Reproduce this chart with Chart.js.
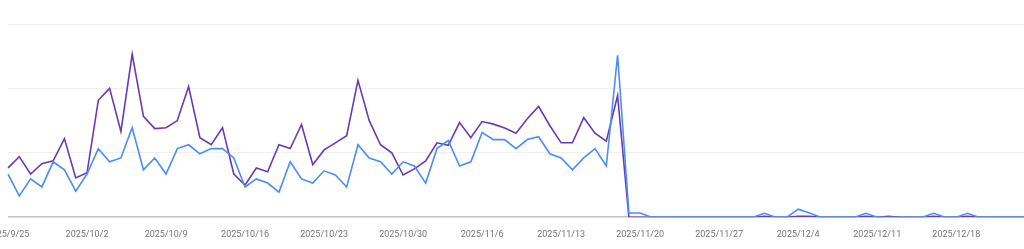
<!DOCTYPE html>
<html>
<head>
<meta charset="utf-8">
<script src="https://cdn.jsdelivr.net/npm/chart.js@4/dist/chart.umd.min.js"></script>
<style>
  html, body { margin: 0; padding: 0; background: #fff; overflow: hidden; }
  #wrap { position: absolute; left: -40px; top: 0; width: 1076px; height: 252px; }
</style>
</head>
<body>
<div id="wrap"><canvas id="chart"></canvas></div>
<script>
// one point per day, 2025/9/25 .. 2025/12/24
var startDay = new Date(2025, 8, 25);
var dayCount = 91;

var tickLabels = ["2025/9/25","2025/10/2","2025/10/9","2025/10/16","2025/10/23","2025/10/30",
  "2025/11/6","2025/11/13","2025/11/20","2025/11/27","2025/12/4","2025/12/11","2025/12/18"];

// blue line
var seriesBlue = [13.4,6.6,11.9,9.4,17.2,14.7,8.1,13.4,21.3,17.2,
  18.4,27.8,14.7,18.4,13.4,21.3,22.5,19.7,21.3,21.3,
  18.4,9.4,11.9,10.6,7.8,17.2,11.9,10.6,14.4,13.1,
  9.4,22.5,18.4,17.2,13.4,17.2,15.9,10.6,21.3,23.8,
  15.9,17.2,26.3,24.1,24.1,21.3,24.1,25.0,19.7,18.4,
  14.7,18.4,21.3,15.9,50.3,1.3,1.3,0,0,0,
  0,0,0,0,0,0,0,1.2,0,0,
  2.5,1.3,0,0,0,0,1.2,0,0,0,
  0,0,1.2,0,0,1.2,0,0,0,0,
  0];

// purple line
var seriesPurple = [15.3,18.8,13.4,16.6,17.5,24.4,12.2,13.8,36.3,40.0,
  26.6,50.6,31.3,27.5,27.8,30.0,40.6,24.7,22.5,27.8,
  13.4,10.0,15.3,14.1,22.5,21.3,28.8,16.3,20.9,23.1,
  25.3,42.5,30.0,22.5,20.0,13.1,15.0,17.5,23.1,22.3,
  29.4,24.7,29.7,28.9,27.7,26.1,30.6,34.4,28.4,23.1,
  23.1,30.9,26.1,23.6,37.8,0,0,0,0,0,
  0,0,0,0,0,0,0,0.3,0,0,
  0.3,0.3,0,0,0,0,0.3,0,0.3,0,
  0,0,0.3,0,0,0.3,0,0,0,0,
  0];

var yMax = 60;
var yStep = 20;

var labels = [];
for (var i = 0; i < dayCount; i++) {
  var d = new Date(startDay.getFullYear(), startDay.getMonth(), startDay.getDate() + i);
  labels.push(d.getFullYear() + "/" + (d.getMonth() + 1) + "/" + d.getDate());
}

new Chart(document.getElementById("chart"), {
  type: 'line',
  data: {
    labels: labels,
    datasets: [{
        data: seriesBlue,
        borderColor: "#4a8ef5",
        borderWidth: 1.6,
        pointRadius: 0,
        tension: 0,
        fill: false
      }, {
        data: seriesPurple,
        borderColor: "#673ab7",
        borderWidth: 1.6,
        pointRadius: 0,
        tension: 0,
        fill: false
      }
    ]
  },
  options: {
    responsive: true,
    maintainAspectRatio: false,
    animation: false,
    layout: { padding: { left: 48, right: 0, top: 24, bottom: 0 } },
    plugins: {
      legend: { display: false },
      tooltip: { enabled: false }
    },
    scales: {
      x: {
        grid: { display: false, drawTicks: false },
        border: { display: false },
        ticks: {
          autoSkip: false,
          maxRotation: 0,
          padding: 12,
          color: "#757575",
          font: { family: "Roboto", size: 9 },
          callback: function (value, index) {
            var lab = labels[index];
            return tickLabels.indexOf(lab) >= 0 ? lab : '';
          }
        }
      },
      y: {
        min: 0,
        max: yMax,
        ticks: { display: false, stepSize: yStep },
        border: { display: false },
        grid: {
          drawTicks: false,
          color: function (ctx) { return ctx.tick.value === 0 ? "#c4c4c4" : "#efefef"; },
          lineWidth: function (ctx) { return ctx.tick.value === 0 ? 1.5 : 1; }
        }
      }
    }
  }
});
</script>
</body>
</html>
